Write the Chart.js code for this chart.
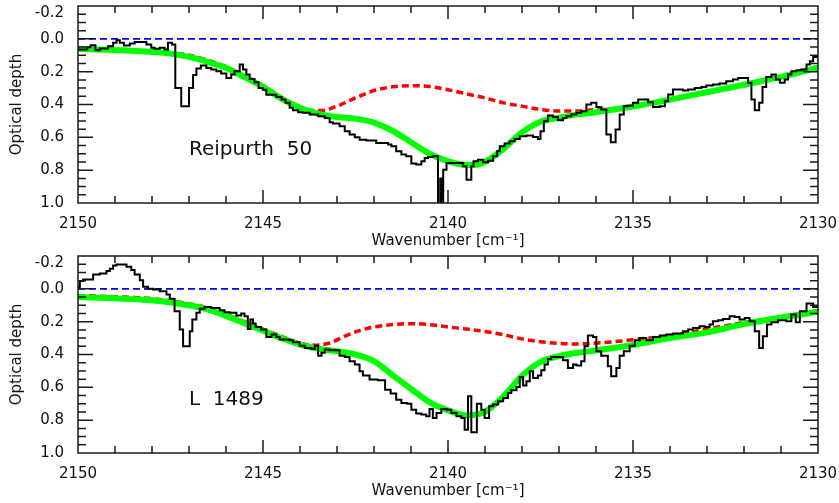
<!DOCTYPE html>
<html>
<head>
<meta charset="utf-8">
<script src="https://cdn.jsdelivr.net/npm/chart.js"></script>
<style>
  body { margin: 0; background: #fff; }
  #wrap { position: relative; width: 839px; height: 503px; }
  canvas { position: absolute; left: 0; }
  #top { top: 0; }
  #bottom { top: 250px; }
</style>
</head>
<body>
<div id="wrap">
  <canvas id="top" width="839" height="250"></canvas>
  <canvas id="bottom" width="839" height="250"></canvas>
</div>
<script>
// wavenumber [cm-1], optical depth

// Reipurth 50: observed spectrum (histogram, each pair = start of a bin)
const reipurthSpectrum = [
  [2150.00,0.065],[2149.75,0.051],[2149.66,0.039],[2149.53,0.069],[2149.41,0.059],[2149.19,0.045],
  [2149.05,0.024],[2148.96,0.008],[2148.87,0.024],[2148.76,0.041],[2148.60,0.028],[2148.47,0.020],
  [2148.15,0.035],[2148.02,0.055],[2147.93,0.061],[2147.79,0.055],[2147.66,0.065],[2147.57,0.024],
  [2147.46,0.035],[2147.37,0.30],[2147.21,0.41],[2147.00,0.30],[2146.89,0.22],[2146.80,0.18],
  [2146.68,0.163],[2146.53,0.177],[2146.40,0.187],[2146.26,0.197],[2146.13,0.211],[2145.99,0.238],
  [2145.86,0.217],[2145.77,0.197],[2145.63,0.156],[2145.54,0.187],[2145.45,0.217],[2145.36,0.244],
  [2145.23,0.264],[2145.12,0.299],[2145.00,0.31],[2144.91,0.34],[2144.64,0.354],[2144.50,0.37],
  [2144.39,0.39],[2144.28,0.42],[2144.19,0.435],[2144.05,0.447],[2143.92,0.451],[2143.74,0.461],
  [2143.51,0.472],[2143.33,0.482],[2143.20,0.508],[2143.11,0.516],[2142.93,0.533],[2142.79,0.563],
  [2142.66,0.583],[2142.52,0.60],[2142.39,0.614],[2142.21,0.62],[2141.94,0.634],[2141.62,0.644],
  [2141.53,0.654],[2141.40,0.685],[2141.26,0.705],[2141.13,0.715],[2140.99,0.76],[2140.86,0.766],
  [2140.72,0.746],[2140.63,0.726],[2140.54,0.72],[2140.41,0.715],[2140.27,1.15],[2140.21,0.85],
  [2140.17,1.15],[2140.13,0.797],[2140.04,0.756],[2139.59,0.776],[2139.50,0.858],[2139.37,0.776],
  [2139.31,0.746],[2139.19,0.736],[2139.05,0.752],[2138.92,0.742],[2138.78,0.715],[2138.67,0.685],
  [2138.60,0.654],[2138.47,0.638],[2138.33,0.624],[2138.20,0.61],[2138.06,0.593],[2137.88,0.589],
  [2137.70,0.598],[2137.57,0.61],[2137.50,0.563],[2137.41,0.502],[2137.30,0.467],[2137.16,0.476],
  [2137.03,0.496],[2136.89,0.482],[2136.80,0.472],[2136.67,0.461],[2136.53,0.451],[2136.40,0.441],
  [2136.26,0.40],[2136.13,0.39],[2135.99,0.415],[2135.86,0.431],[2135.72,0.583],[2135.60,0.63],
  [2135.47,0.553],[2135.36,0.461],[2135.25,0.41],[2135.14,0.407],[2135.00,0.39],[2134.86,0.37],
  [2134.59,0.386],[2134.46,0.415],[2134.28,0.41],[2134.14,0.38],[2134.05,0.339],[2133.92,0.309],
  [2133.65,0.315],[2133.51,0.309],[2133.33,0.299],[2133.15,0.293],[2133.02,0.285],[2132.84,0.278],
  [2132.66,0.272],[2132.48,0.258],[2132.30,0.248],[2132.16,0.238],[2131.89,0.268],[2131.80,0.37],
  [2131.71,0.435],[2131.59,0.39],[2131.50,0.293],[2131.40,0.232],[2131.26,0.217],[2131.14,0.248],
  [2131.03,0.268],[2130.90,0.248],[2130.81,0.217],[2130.72,0.197],[2130.58,0.191],[2130.45,0.187],
  [2130.31,0.156],[2130.22,0.136],[2130.13,0.11],[2130.00,0.11]
];
// Reipurth 50: total fit (green)
const reipurthFit = [
  [2150,0.061],[2149,0.068],[2148,0.080],[2147.5,0.09],[2147,0.11],[2146.5,0.14],[2146,0.177],
  [2145.5,0.233],[2145,0.293],[2144.5,0.365],[2144,0.42],[2143.5,0.457],[2143,0.476],[2142.5,0.486],
  [2142,0.51],[2141.5,0.56],[2141,0.63],[2140.5,0.70],[2140,0.745],[2139.5,0.768],[2139.2,0.766],
  [2139,0.75],[2138.5,0.67],[2138,0.57],[2137.5,0.505],[2137,0.48],[2136.5,0.46],[2136,0.447],
  [2135.5,0.43],[2135,0.412],[2134,0.37],[2133,0.325],[2132,0.28],[2131,0.232],[2130,0.175]
];
// Reipurth 50: fit without the central component (red dashed)
const reipurthPartial = [
  [2150,0.058],[2149,0.064],[2148,0.075],[2147,0.10],[2146.5,0.13],[2146,0.17],[2145.5,0.225],
  [2145,0.285],[2144.5,0.355],[2144,0.415],[2143.7,0.435],[2143.4,0.437],[2143,0.41],[2142.5,0.36],
  [2142,0.315],[2141.5,0.292],[2141,0.285],[2140.5,0.29],[2140,0.31],[2139.5,0.335],[2139,0.36],
  [2138.5,0.39],[2138,0.41],[2137.5,0.43],[2137,0.44],[2136.5,0.44],[2136,0.43],[2135.5,0.425],
  [2135,0.41],[2134,0.367],[2133,0.322],[2132,0.277],[2131,0.23],[2130,0.173]
];

// L 1489: observed spectrum
const l1489Spectrum = [
  [2150.00,-0.006],[2149.95,-0.047],[2149.86,-0.057],[2149.59,-0.087],[2149.41,-0.093],[2149.23,-0.108],
  [2149.14,-0.122],[2149.05,-0.142],[2148.96,-0.148],[2148.69,-0.134],[2148.56,-0.114],[2148.47,-0.087],
  [2148.33,-0.053],[2148.24,-0.012],[2148.11,0.0],[2147.97,0.004],[2147.79,0.014],[2147.61,0.035],
  [2147.52,0.061],[2147.39,0.136],[2147.25,0.248],[2147.16,0.35],[2146.98,0.258],[2146.91,0.187],
  [2146.80,0.146],[2146.71,0.122],[2146.58,0.110],[2146.40,0.116],[2146.17,0.13],[2146.04,0.142],
  [2145.90,0.146],[2145.72,0.163],[2145.59,0.15],[2145.50,0.167],[2145.41,0.244],[2145.34,0.187],
  [2145.27,0.211],[2145.20,0.232],[2145.05,0.248],[2144.91,0.293],[2144.77,0.278],[2144.64,0.293],
  [2144.55,0.309],[2144.28,0.313],[2144.19,0.325],[2144.01,0.346],[2143.87,0.36],[2143.69,0.366],
  [2143.60,0.346],[2143.51,0.407],[2143.42,0.39],[2143.33,0.37],[2143.20,0.374],[2142.93,0.407],
  [2142.79,0.415],[2142.66,0.441],[2142.52,0.461],[2142.39,0.502],[2142.30,0.528],[2142.12,0.553],
  [2141.90,0.557],[2141.70,0.614],[2141.55,0.638],[2141.40,0.675],[2141.26,0.695],[2141.10,0.70],
  [2140.99,0.736],[2140.86,0.76],[2140.72,0.766],[2140.59,0.776],[2140.50,0.732],[2140.41,0.787],
  [2140.31,0.756],[2140.18,0.732],[2140.04,0.736],[2139.91,0.756],[2139.77,0.776],[2139.64,0.787],
  [2139.55,0.858],[2139.46,0.654],[2139.37,0.874],[2139.22,0.70],[2139.10,0.736],[2139.01,0.787],
  [2138.89,0.715],[2138.78,0.705],[2138.65,0.685],[2138.51,0.665],[2138.38,0.634],[2138.29,0.618],
  [2138.15,0.598],[2138.06,0.537],[2137.97,0.589],[2137.88,0.563],[2137.79,0.502],[2137.70,0.543],
  [2137.57,0.528],[2137.48,0.496],[2137.39,0.461],[2137.30,0.427],[2137.21,0.415],[2136.89,0.435],
  [2136.76,0.482],[2136.62,0.461],[2136.53,0.467],[2136.40,0.441],[2136.31,0.35],[2136.22,0.285],
  [2136.08,0.293],[2135.99,0.38],[2135.86,0.407],[2135.68,0.472],[2135.59,0.533],[2135.45,0.482],
  [2135.36,0.407],[2135.25,0.38],[2135.09,0.346],[2134.95,0.313],[2134.82,0.299],[2134.64,0.313],
  [2134.46,0.293],[2134.28,0.285],[2134.10,0.278],[2133.92,0.272],[2133.65,0.258],[2133.51,0.248],
  [2133.38,0.238],[2133.20,0.228],[2133.06,0.232],[2132.93,0.217],[2132.84,0.197],[2132.70,0.191],
  [2132.57,0.183],[2132.39,0.167],[2132.25,0.171],[2132.12,0.187],[2131.98,0.177],[2131.85,0.197],
  [2131.71,0.258],[2131.59,0.36],[2131.49,0.289],[2131.38,0.217],[2131.26,0.203],[2131.08,0.191],
  [2130.86,0.197],[2130.72,0.156],[2130.60,0.203],[2130.49,0.136],[2130.31,0.089],[2130.13,0.11],
  [2130.00,0.11]
];
const l1489Fit = [
  [2150,0.05],[2149,0.058],[2148,0.07],[2147,0.10],[2146.5,0.125],[2146,0.165],[2145.5,0.21],
  [2145,0.255],[2144.5,0.30],[2144,0.34],[2143.5,0.365],[2143,0.38],[2142.5,0.40],[2142,0.44],
  [2141.5,0.525],[2141,0.61],[2140.5,0.69],[2140,0.74],[2139.5,0.77],[2139.2,0.765],[2139,0.75],
  [2138.5,0.655],[2138,0.53],[2137.5,0.445],[2137,0.41],[2136.5,0.39],[2136,0.375],[2135,0.342],
  [2134,0.30],[2133,0.265],[2132,0.215],[2131,0.175],[2130,0.14]
];
const l1489Partial = [
  [2150,0.04],[2149,0.048],[2148,0.06],[2147,0.09],[2146.5,0.115],[2146,0.155],[2145.5,0.20],
  [2145,0.245],[2144.5,0.29],[2144,0.33],[2143.6,0.343],[2143.2,0.33],[2142.8,0.29],[2142.4,0.255],
  [2142,0.232],[2141.5,0.218],[2141,0.212],[2140.5,0.218],[2140,0.232],[2139.5,0.245],[2139,0.26],
  [2138.5,0.28],[2138,0.305],[2137.5,0.322],[2137,0.332],[2136.5,0.336],[2136,0.33],[2135.5,0.322],
  [2135,0.31],[2134,0.285],[2133,0.245],[2132,0.205],[2131,0.17],[2130,0.132]
];

const zeroLevel = [[2150, 0], [2130, 0]];

const FONT = '"DejaVu Sans", sans-serif';
const toXY = arr => arr.map(([x, y]) => ({ x, y }));

// box with inward ticks on all four sides, plus the source name
const frameTicks = {
  id: 'frameTicks',
  afterDraw(chart, args, opts) {
    const { ctx, chartArea: a, scales: { x, y } } = chart;
    ctx.save();
    ctx.setLineDash([]);
    ctx.globalAlpha = 1;
    ctx.strokeStyle = '#1a1a1a';
    ctx.lineWidth = 1.5;
    ctx.beginPath();
    ctx.moveTo(a.left, a.top);
    ctx.lineTo(a.right, a.top);
    ctx.lineTo(a.right, a.bottom);
    ctx.lineTo(a.left, a.bottom);
    ctx.closePath();
    for (let w = 2130; w <= 2150; w++) {
      const px = x.getPixelForValue(w);
      const len = w % 5 === 0 ? 13 : 7;
      ctx.moveTo(px, a.bottom); ctx.lineTo(px, a.bottom - len);
      ctx.moveTo(px, a.top); ctx.lineTo(px, a.top + len);
    }
    for (let i = 0; i <= 24; i++) {
      const py = y.getPixelForValue(-0.2 + i * 0.05);
      const len = i % 4 === 0 ? 15 : 8;
      ctx.moveTo(a.left, py); ctx.lineTo(a.left + len, py);
      ctx.moveTo(a.right, py); ctx.lineTo(a.right - len, py);
    }
    ctx.stroke();
    ctx.fillStyle = '#111';
    ctx.font = '20px ' + FONT;
    ctx.textBaseline = 'alphabetic';
    ctx.textAlign = 'left';
    ctx.fillText(opts.text, x.getPixelForValue(2147), y.getPixelForValue(0.705));
    ctx.restore();
  }
};

function noPad(s) {
  s.paddingTop = 0; s.paddingBottom = 0; s.paddingLeft = 0; s.paddingRight = 0;
}

// top label sits just inside the box, like the original
function yLabel(v) {
  const t = (Math.abs(v) < 1e-9 ? 0 : v).toFixed(1);
  return v < -0.15 ? ['', t] : t;
}

function makeChart(id, spectrum, fit, partial, label) {
  return new Chart(document.getElementById(id), {
    type: 'line',
    data: {
      datasets: [
        { data: toXY(spectrum), borderColor: '#000', borderWidth: 2, stepped: true, pointRadius: 0 },
        { data: toXY(fit), borderColor: '#00ff00', borderWidth: 6, cubicInterpolationMode: 'monotone', pointRadius: 0 },
        { data: toXY(partial), borderColor: '#ff0000', borderWidth: 3.5, borderDash: [7, 4], cubicInterpolationMode: 'monotone', pointRadius: 0 },
        { data: toXY(zeroLevel), borderColor: '#0000ff', borderWidth: 1.7, borderDash: [7, 4], pointRadius: 0 }
      ]
    },
    options: {
      responsive: false,
      animation: false,
      layout: { padding: { top: 6, right: 21, left: 0, bottom: 0 } },
      plugins: { legend: { display: false }, tooltip: { enabled: false }, frameTicks: { text: label } },
      scales: {
        x: {
          type: 'linear', min: 2130, max: 2150, reverse: true,
          grid: { display: false }, border: { display: false },
          ticks: { stepSize: 5, padding: 4, autoSkip: false, maxRotation: 0, color: '#111',
                   font: { family: FONT, size: 15 }, callback: v => String(v) },
          title: { display: true, text: 'Wavenumber [cm\u207B\u00B9]', color: '#111', font: { family: FONT, size: 15 }, padding: { top: 0, bottom: 0 } },
          afterFit: s => { s.height = 47; noPad(s); }
        },
        y: {
          min: -0.2, max: 1.0, reverse: true,
          grid: { display: false }, border: { display: false },
          ticks: { stepSize: 0.2, padding: 6, color: '#111', font: { family: FONT, size: 15, lineHeight: 0.9 },
                   callback: yLabel },
          title: { display: true, text: 'Optical depth', color: '#111', font: { family: FONT, size: 15 }, padding: { top: 8, bottom: 0 } },
          afterFit: s => { s.width = 78; noPad(s); }
        }
      }
    },
    plugins: [frameTicks]
  });
}

makeChart('top', reipurthSpectrum, reipurthFit, reipurthPartial, 'Reipurth  50');
makeChart('bottom', l1489Spectrum, l1489Fit, l1489Partial, 'L  1489');
</script>
</body>
</html>
